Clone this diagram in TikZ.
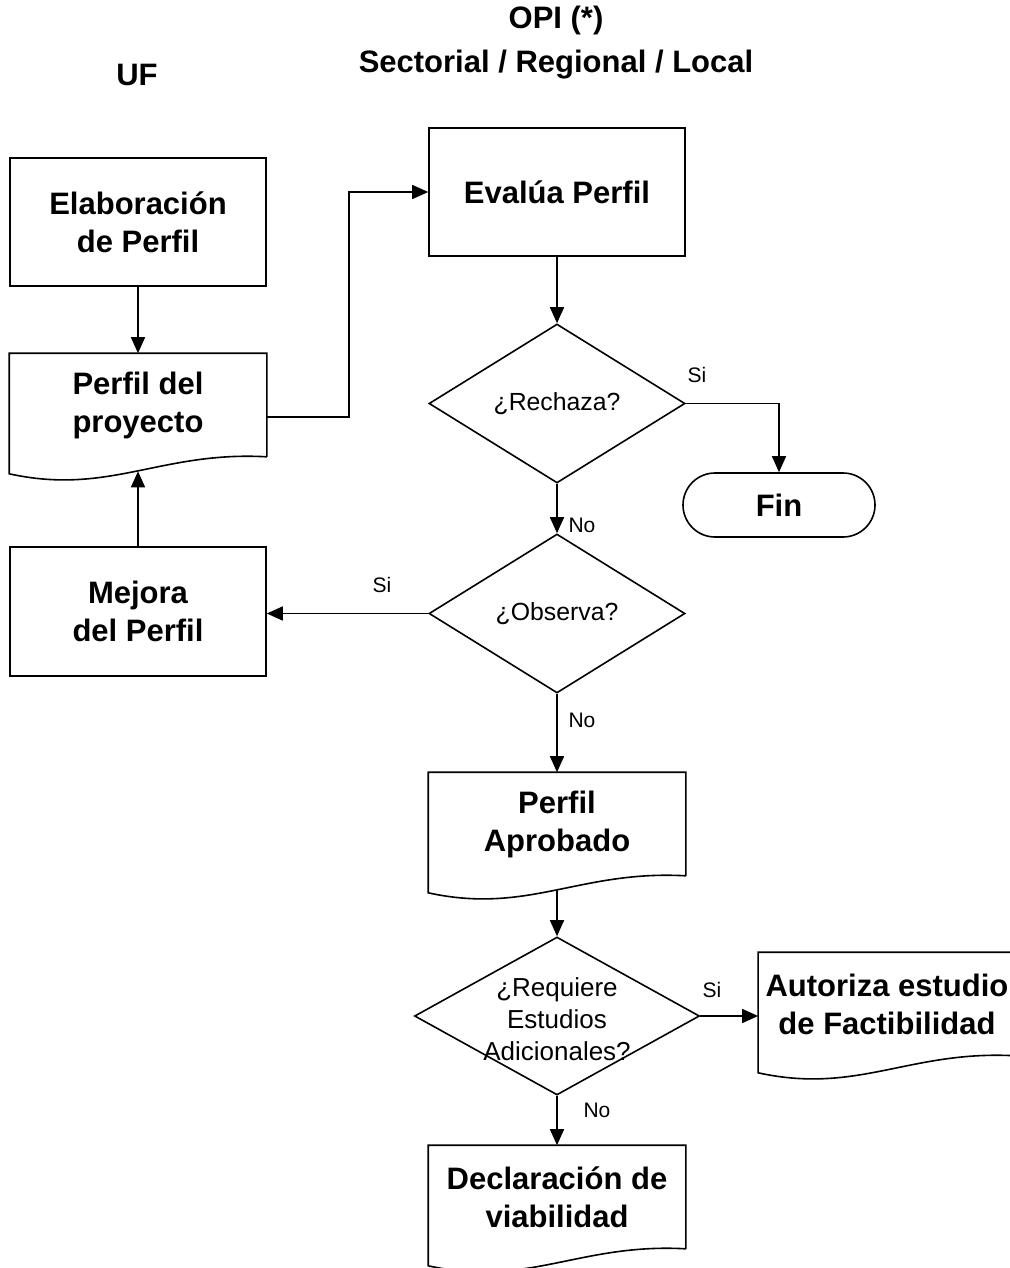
\documentclass[tikz,border=0pt]{standalone}
\usepackage{fontspec}
\setmainfont{Liberation Sans}
\usetikzlibrary{arrows.meta,shapes.geometric}

\tikzset{
    box/.style={rectangle, draw, line width=0.8pt, minimum width=128pt, minimum height=64pt, align=center, font=\bfseries\fontsize{15.5}{19}\selectfont},
    doc/.style={box, draw=none, minimum height=51pt},
    decision/.style={diamond, draw, line width=0.8pt, inner sep=0pt, minimum width=128pt, minimum height=79.5pt, font=\fontsize{12.4}{16}\selectfont},
    term/.style={box, rounded corners=16pt, minimum width=96pt, minimum height=32pt},
    qtext/.style={align=center, font=\fontsize{13}{16}\selectfont},
    lbl/.style={font=\fontsize{10.5}{12}\selectfont},
    heading/.style={align=center, font=\bfseries\fontsize{15.5}{22}\selectfont},
    arr/.style={-{Triangle[length=8pt,width=7pt]}, line width=0.8pt}
}

% outline of a document node, wave at the bottom
\newcommand{\docshape}[1]{%
    \draw[line width=0.8pt] (#1.south east) -- (#1.north east) -- (#1.north west) -- ([yshift=-8.5pt]#1.south west)
        .. controls +(50pt,-11pt) and +(-53pt,3pt) .. (#1.south east) coordinate[pos=0.5] (#1-w);}

\begin{document}
\begin{tikzpicture}[x=0.5pt, y=-0.5pt]
    \useasboundingbox (0,0) rectangle (1009,1268);

    % column headings
    \node[heading] (uf) at (137,75) {UF};
    \node[heading] (opi) at (556,43) {OPI (*)\\Sectorial / Regional / Local};

    % UF column
    \node[box] (elab) at (138,222) {Elaboración\\de Perfil};
    \node[doc] (perfil) at (138,405) {Perfil del\\proyecto};
    \node[box, minimum height=64.5pt] (mejora) at (138,611.5) {Mejora\\del Perfil};

    % OPI column
    \node[box] (evalua) at (557,192) {Evalúa Perfil};
    \node[decision] (rech) at (557,403.5) {¿Rechaza?};
    \node[term] (fin) at (779,505) {Fin};
    \node[decision] (obs) at (557,613.5) {¿Observa?};
    \node[doc] (aprob) at (557,824) {Perfil\\Aprobado};
    \node[decision, minimum width=142.5pt, minimum height=79pt,
          label={[qtext, yshift=-1.5pt]center:¿Requiere\\Estudios\\Adicionales?}] (req) at (557,1016) {};
    \node[doc] (autor) at (887,1004) {Autoriza estudio\\de Factibilidad};
    \node[doc] (decl) at (557,1197) {Declaración de\\viabilidad};

    \docshape{perfil}
    \docshape{aprob}
    \docshape{autor}
    \docshape{decl}

    % arrows
    \draw[arr] (elab.south) -- (perfil.north);
    \draw[arr] ([yshift=-6pt]perfil.east) -- ++(82,0) |- (evalua.west);
    \draw[arr] (evalua.south) -- (rech.north);
    \draw[arr] (rech.east) -| (fin.north);
    \draw[arr] (rech.south) -- (obs.north);
    \draw[arr] (obs.west) -- (obs.west -| mejora.east);
    \draw[arr] (mejora.north) -- (mejora.north |- perfil-w);
    \draw[arr] (obs.south) -- (aprob.north);
    \draw[arr] (req.north |- aprob-w) -- (req.north);
    \draw[arr] (req.east) -- (req.east -| autor.west);
    \draw[arr] (req.south) -- (decl.north);

    % branch labels
    \node[lbl] (si1) at (697,375) {Si};
    \node[lbl] (no1) at (582,525) {No};
    \node[lbl] (si2) at (382,585) {Si};
    \node[lbl] (no2) at (582,720) {No};
    \node[lbl] (si3) at (712,990) {Si};
    \node[lbl] (no3) at (597,1110) {No};
\end{tikzpicture}
\end{document}
